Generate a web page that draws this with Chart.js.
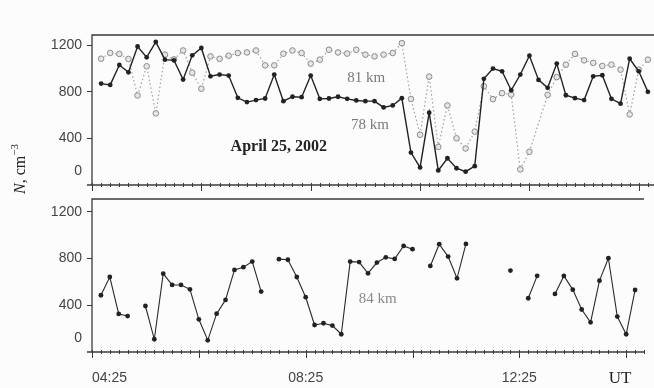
<!DOCTYPE html>
<html>
<head>
<meta charset="utf-8">
<script src="https://cdn.jsdelivr.net/npm/chart.js@4.4.1/dist/chart.umd.min.js"></script>
<style>
  html, body { margin: 0; padding: 0; background: #fcfcfc; overflow: hidden; }
  #wrap { position: relative; width: 654px; height: 388px; overflow: hidden; }
  canvas { position: absolute; left: 0; }
  #top { top: 0; }
  #bottom { top: 180px; }
</style>
</head>
<body>
<div id="wrap">
  <canvas id="top" width="662" height="205"></canvas>
  <canvas id="bottom" width="662" height="208"></canvas>
</div>
<script>
// sampling times (UT), every 10 min
const times = [
  '04:35', '04:45', '04:55', '05:05', '05:15', '05:25', '05:35', '05:45', '05:55', '06:05',
  '06:15', '06:25', '06:35', '06:45', '06:55', '07:05', '07:15', '07:25', '07:35', '07:45',
  '07:55', '08:05', '08:15', '08:25', '08:35', '08:45', '08:55', '09:05', '09:15', '09:25',
  '09:35', '09:45', '09:55', '10:05', '10:15', '10:25', '10:35', '10:45', '10:55', '11:05',
  '11:15', '11:25', '11:35', '11:45', '11:55', '12:05', '12:15', '12:25', '12:35', '12:45',
  '12:55', '13:05', '13:15', '13:25', '13:35', '13:45', '13:55', '14:05', '14:15', '14:25',
  '14:35'
];

// electron density N, cm^-3
const n78 = [
  872, 861, 1032, 969, 1191, 1098, 1230, 1078, 1072, 907,
  1115, 1178, 935, 950, 941, 750, 713, 730, 744, 950,
  721, 759, 755, 941, 741, 744, 759, 741, 727, 721,
  721, 667, 684, 747, 279, 151, 622, 125, 230, 144,
  115, 162, 913, 1001, 978, 815, 950, 1112, 904, 836,
  1044, 772, 747, 730, 935, 944, 741, 699, 1086, 978,
  801
];
const n81 = [
  1086, 1135, 1127, 1084, 770, 1021, 616, 1121, 1080, 1157,
  966, 828, 1106, 1085, 1112, 1135, 1140, 1157, 1029, 1029,
  1129, 1157, 1135, 1044, 1078, 1163, 1140, 1130, 1163, 1121,
  1106, 1121, 1135, 1220, 740, 432, 932, 328, 684, 402,
  314, 459, 850, 738, 790, 778, 134, 286, null, 775,
  928, 1035, 1127, 1072, 1050, 1024, 1035, 992, 607, 992,
  1078
];
const n84 = [
  486, 642, 326, 308, null, 394, 109, 671, 574, 574,
  537, 280, 100, 328, 446, 703, 726, 774, 517, null,
  795, 790, 642, 469, 231, 246, 226, 152, 774, 770,
  674, 766, 811, 797, 908, 880, null, 737, 923, 817,
  631, 925, null, null, null, null, 697, null, 460, 652,
  null, 497, 651, 534, 364, 254, 611, 803, 303, 152,
  531
];

const xTickLabels = ['04:25', '08:25', '12:25'];
const yTicks = [0, 400, 800, 1200];

const toMin = s => { const [h, m] = s.split(':').map(Number); return h * 60 + m; };
const toHHMM = v => String(Math.floor(v / 60)).padStart(2, '0') + ':' + String(v % 60).padStart(2, '0');

const xStart = toMin('04:25');
const xEnd = xStart + 620;
// the "0" label of the original sits a little above the axis line
const zeroLift = 120;

const pts = vals => times.map((t, i) => ({ x: toMin(t), y: vals[i] }));

// box, axis line and the 10-min / 2-hour ticks
const frame = {
  id: 'frame',
  beforeDatasetsDraw(chart) {
    const { ctx, chartArea: a, scales: { x } } = chart;
    ctx.save();
    ctx.strokeStyle = '#3a3a3a';
    ctx.lineWidth = 1.3;
    ctx.beginPath();
    ctx.moveTo(a.left, a.bottom);
    ctx.lineTo(a.left, a.top);
    ctx.lineTo(a.right, a.top);
    ctx.moveTo(a.left - 5, a.bottom);
    ctx.lineTo(a.right, a.bottom);
    ctx.stroke();
    ctx.lineWidth = 1;
    ctx.beginPath();
    for (let t = xStart; t <= xEnd; t += 10) {
      const px = Math.round(x.getPixelForValue(t)) + 0.5;
      const major = (t - xStart) % 120 === 0;
      ctx.moveTo(px, a.bottom - 2);
      ctx.lineTo(px, a.bottom + (major ? 6 : 2));
    }
    ctx.stroke();
    ctx.restore();
  }
};

// text placed in data coordinates
const notes = {
  id: 'notes',
  afterDatasetsDraw(chart, args, opts) {
    const { ctx, scales: { x, y } } = chart;
    ctx.save();
    ctx.textAlign = 'center';
    ctx.textBaseline = 'middle';
    (opts.items || []).forEach(n => {
      ctx.font = n.font;
      ctx.fillStyle = n.color;
      ctx.fillText(n.text, x.getPixelForValue(toMin(n.at[0])), y.getPixelForValue(n.at[1]));
    });
    ctx.restore();
  }
};

const yTitle = {
  id: 'yTitle',
  afterDraw(chart, args, opts) {
    if (!opts.show) return;
    const { ctx, chartArea: a } = chart;
    const parts = [
      ['italic 16px "Liberation Serif"', 'N', 0],
      ['16px "Liberation Serif"', ', cm', 0],
      ['11px "Liberation Serif"', '\u22123', -6]
    ];
    ctx.save();
    ctx.translate(a.left - 71, a.bottom - 16);
    ctx.rotate(-Math.PI / 2);
    ctx.fillStyle = '#222';
    ctx.textAlign = 'left';
    ctx.textBaseline = 'middle';
    let w = 0;
    parts.forEach(p => { ctx.font = p[0]; w += ctx.measureText(p[1]).width; });
    let cx = -w / 2;
    parts.forEach(p => {
      ctx.font = p[0];
      ctx.fillText(p[1], cx, p[2]);
      cx += ctx.measureText(p[1]).width;
    });
    ctx.restore();
  }
};

const tickFont = { family: '"Liberation Sans", Arial, sans-serif', size: 14 };

function panel(id, datasets, o) {
  return new Chart(document.getElementById(id), {
    type: 'line',
    data: { datasets },
    plugins: [frame, notes, yTitle],
    options: {
      responsive: false,
      animation: false,
      layout: { padding: { top: o.top, left: 0, right: 0, bottom: 0 } },
      plugins: {
        legend: { display: false },
        tooltip: { enabled: false },
        notes: { items: o.notes },
        yTitle: { show: !!o.yTitle }
      },
      scales: {
        x: {
          type: 'linear',
          min: xStart,
          max: xEnd,
          afterBuildTicks: s => {
            s.ticks = [...xTickLabels.map(toMin), xEnd].map(v => ({ value: v }));
          },
          grid: { display: false, drawTicks: false },
          border: { display: false },
          ticks: {
            display: o.xLabels,
            autoSkip: false,
            maxRotation: 0,
            align: 'inner',
            padding: 18,
            color: '#444',
            font: tickFont,
            callback: v => xTickLabels.includes(toHHMM(v)) ? toHHMM(v) : ''
          },
          afterFit: s => { s.height = o.xHeight; }
        },
        y: {
          min: 0,
          max: o.yMax,
          afterBuildTicks: s => {
            s.ticks = yTicks.map(v => ({ value: v === 0 ? zeroLift : v }));
          },
          grid: {
            drawOnChartArea: false,
            tickLength: 5,
            tickColor: c => (c.tick && c.tick.value === zeroLift) ? 'rgba(0,0,0,0)' : '#3a3a3a'
          },
          border: { display: false },
          ticks: {
            padding: 5,
            color: '#444',
            font: tickFont,
            callback: v => v === zeroLift ? '0' : v
          },
          afterFit: s => { s.width = 92; }
        }
      }
    }
  });
}

panel('top', [
  {
    label: '78 km',
    data: pts(n78),
    borderColor: '#222',
    borderWidth: 1.4,
    pointRadius: 2.4,
    pointBackgroundColor: '#222',
    pointBorderWidth: 0
  },
  {
    label: '81 km',
    data: pts(n81),
    spanGaps: true,
    borderColor: '#a0a0a0',
    borderWidth: 1.2,
    borderDash: [1.5, 2.5],
    pointRadius: 2.8,
    pointBackgroundColor: '#e6e6e6',
    pointBorderColor: '#8a8a8a',
    pointBorderWidth: 1
  }
], {
  top: 35, xHeight: 20, yMax: 1290, xLabels: false, yTitle: true,
  notes: [
    { text: '81 km', at: ['09:26', 923], font: '15px "Liberation Serif"', color: '#7a7a7a' },
    { text: '78 km', at: ['09:30', 513], font: '15px "Liberation Serif"', color: '#7a7a7a' },
    { text: 'April 25, 2002', at: ['07:50', 325], font: 'bold 16px "Liberation Serif"', color: '#222' }
  ]
});

panel('bottom', [
  {
    label: '84 km',
    data: pts(n84),
    borderColor: '#2a2a2a',
    borderWidth: 1.1,
    pointRadius: 2.4,
    pointBackgroundColor: '#222',
    pointBorderWidth: 0
  }
], {
  top: 19, xHeight: 36, yMax: 1310, xLabels: true, yTitle: false,
  notes: [
    { text: '84 km', at: ['09:46', 454], font: '15px "Liberation Serif"', color: '#8a8a8a' },
    { text: 'UT', at: ['14:18', -230], font: '17px "Liberation Serif"', color: '#222' }
  ]
});
</script>
</body>
</html>
